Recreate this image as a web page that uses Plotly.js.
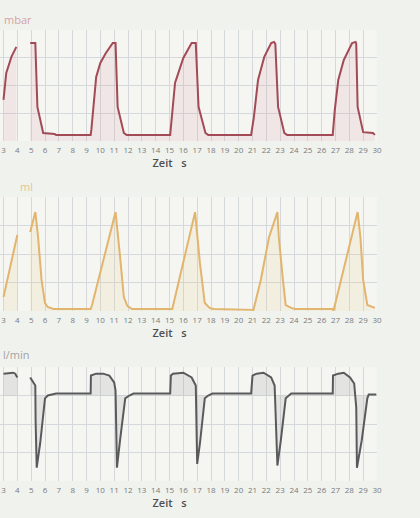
<!DOCTYPE html>
<html>
<head>
<meta charset="utf-8">
<script src="https://cdn.plot.ly/plotly-3.0.1.min.js"></script>
<style>
html,body{margin:0;padding:0;overflow:hidden;background:#f0f2ee;width:420px;height:518px;position:relative}
#chart{position:absolute;left:-56px;top:0;width:480px;height:518px}
</style>
</head>
<body>
<div id="chart"></div>
<script>
// Pressure (mbar) — null marks the monitor's sweep gap
const pressureT = [3.0,3.2,3.57,3.93,4.0,
  4.93,5.3,5.45,5.87,6.7,6.8,9.3,
  9.35,9.7,10.0,10.4,10.9,11.1,11.25,11.7,11.9,15.05,
  15.1,15.4,16.0,16.6,16.9,17.1,17.6,17.8,20.9,
  21.1,21.4,21.85,22.35,22.55,22.65,22.85,23.3,23.5,26.8,
  26.95,27.2,27.6,28.2,28.45,28.5,28.6,29.0,29.7,29.85];
const pressureV = [14.8,24.5,30.3,33.9,null,
  35.3,35.3,12.3,2.9,2.5,2.2,2.2,
  4.0,23.1,28.1,31.7,35.3,35.3,12.3,2.9,2.2,2.2,
  4.7,20.9,29.9,35.3,35.3,12.3,2.9,2.2,2.2,
  8.6,22.0,30.3,35.3,35.7,35.0,12.3,2.9,2.2,2.2,
  11.2,22.0,29.2,35.3,35.7,35.0,12.3,3.2,2.9,2.2];

// Volume (ml)
const volumeT = [3.0,3.5,4.0,4.2,
  4.93,5.3,5.5,5.75,6.0,6.2,6.6,9.3,
  9.4,11.1,11.4,11.7,11.95,12.3,15.2,
  16.85,17.2,17.55,17.9,18.2,21.0,21.05,
  21.6,22.2,22.8,22.9,23.2,23.4,23.8,24.1,26.8,26.85,
  28.6,28.8,29.0,29.3,29.85];
const volumeV = [49,161,267,null,
  277,347,260,109,28,14,7,7,
  21,347,204,49,18,7,7,
  347,168,28,11,7,4,0,
  109,260,347,260,109,21,11,7,7,0,
  347,260,109,21,11];

// Flow (l/min)
const flowT = [3.0,3.7,3.85,4.0,4.2,
  4.93,5.3,5.32,5.4,5.65,5.85,6.0,6.2,6.8,9.3,
  9.32,9.7,10.2,10.65,11.0,11.1,11.2,11.45,11.8,12.1,12.4,15.05,
  15.1,15.25,16.0,16.6,16.9,17.0,17.2,17.55,17.8,18.1,20.9,
  21.0,21.3,21.8,22.35,22.6,22.65,22.8,23.05,23.4,23.8,26.8,
  26.82,27.2,27.6,28.05,28.35,28.5,28.55,28.9,29.3,29.4,29.95];
const flowV = [23,24,23,19,null,
  19,10.5,-26,-76,-50.5,-26,-3,0,2,2,
  21,23,23,21,13.7,5.3,-76,-44,-3,0,2,2,
  21,23,24,19,10.5,-72,-50.5,-3,0,2,2,
  21,23,24,19,10.5,-12.6,-73.7,-47,-3,2,2,
  21,23,24,19,12.6,-12.6,-76,-47,-3,1,1];

const tickVals = [];
for (let i = 0; i <= 30; i++) tickVals.push(i);
const tickText = tickVals.map(v => v < 3 ? '' : String(v));

// split a series at its null gaps into separate segments
function segments(t, v) {
  const out = []; let cur = {x: [], y: []};
  for (let i = 0; i < t.length; i++) {
    if (v[i] === null) { if (cur.x.length) out.push(cur); cur = {x: [], y: []}; }
    else { cur.x.push(t[i]); cur.y.push(v[i]); }
  }
  if (cur.x.length) out.push(cur);
  return out;
}

const series = [
  {t: pressureT, v: pressureV, xa: 'x',  ya: 'y',  color: '#a24a55', fill: 'rgba(215,150,160,0.16)'},
  {t: volumeT,   v: volumeV,   xa: 'x2', ya: 'y2', color: '#e2b56f', fill: 'rgba(225,190,120,0.14)'},
  {t: flowT,     v: flowV,     xa: 'x3', ya: 'y3', color: '#5a5a5c', fill: 'rgba(150,150,150,0.18)'}
];
const traces = [];
series.forEach(s => {
  segments(s.t, s.v).forEach(seg => {
    traces.push({x: seg.x, y: seg.y, xaxis: s.xa, yaxis: s.ya, type: 'scatter', mode: 'lines',
      line: {color: s.color, width: 2}, fill: 'tozeroy', fillcolor: s.fill, hoverinfo: 'skip'});
  });
});

function xax(anchor) {
  return {anchor: anchor, range:[0,30], tickvals: tickVals, ticktext: tickText,
    showgrid:true, gridcolor:'#d5d9db', gridwidth:1, zeroline:false, showline:false, ticks:'',
    tickfont:{family:'Open Sans', size:8, color:'#7a7a7a'}, ticklabelstandoff:3,
    title:{text:'Zeit   s', font:{family:'Open Sans', size:11, color:'#4e4e4e', weight:600}, standoff:2}};
}
function yax(range, dtick, domain) {
  return {domain: domain, range: range, dtick: dtick, tick0: 0, showticklabels:false,
    showgrid:true, gridcolor:'#d5d9db', gridwidth:1, zeroline:false, showline:false, ticks:''};
}

const layout = {
  width:480, height:518,
  margin:{l:18, r:47, t:0, b:0},
  paper_bgcolor:'#f0f2ee', plot_bgcolor:'#f5f6f2',
  showlegend:false,
  font:{family:'Open Sans'},
  xaxis: xax('y'), xaxis2: xax('y2'), xaxis3: xax('y3'),
  yaxis: yax([0,40], 10, [0.7278, 0.9421]),
  yaxis2: yax([0,400], 100, [0.3996, 0.6197]),
  yaxis3: yax([-90,30], 30, [0.0714, 0.2915]),
  annotations: [
    {text:'mbar', xref:'paper', yref:'paper', x:0.0964, y:0.9614, xanchor:'left', yanchor:'middle', showarrow:false, font:{size:11, color:'#d6a2a8'}},
    {text:'ml', xref:'paper', yref:'paper', x:0.135, y:0.639, xanchor:'left', yanchor:'middle', showarrow:false, font:{size:11, color:'#e4c48e'}},
    {text:'l/min', xref:'paper', yref:'paper', x:0.094, y:0.3147, xanchor:'left', yanchor:'middle', showarrow:false, font:{size:11, color:'#a3a3a3'}}
  ]
};

Plotly.newPlot('chart', traces, layout, {staticPlot:true, displayModeBar:false});
</script>
</body>
</html>
